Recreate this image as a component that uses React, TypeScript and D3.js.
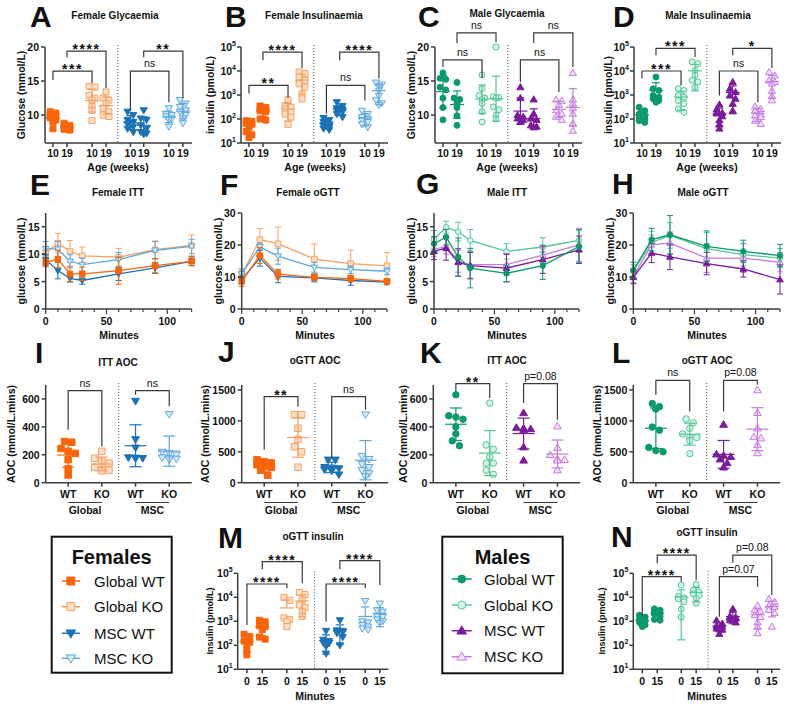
import React from 'react';
import * as d3 from 'd3';

const FONT = "'Liberation Sans', Arial, Helvetica, sans-serif";
const AXIS = '#3c3c3c';
const INK = '#111';

// ---------------- DATA ----------------
// Row 1: order = Global WT 10, Global WT 19, Global KO 10, Global KO 19, MSC WT 10, MSC WT 19, MSC KO 10, MSC KO 19
const femaleGlycaemia = [
  [10.5, 10.3, 10.0, 9.8, 9.6, 9.3, 9.0, 8.0],
  [8.8, 8.5, 8.3, 8.2, 8.1, 8.0, 7.9, 7.8],
  [14.2, 14.1, 12.9, 12.5, 12.2, 11.3, 10.7, 9.2],
  [13.4, 12.5, 12.2, 11.7, 11.0, 10.5, 10.0, 9.8],
  [10.5, 10.0, 9.3, 9.0, 8.7, 8.3, 8.0, 7.5],
  [10.7, 9.5, 9.3, 8.5, 8.0, 7.5, 7.3, 7.2],
  [11.0, 10.2, 10.0, 9.8, 9.5, 9.3, 8.3],
  [12.2, 11.7, 11.2, 10.7, 10.5, 10.0, 9.5, 8.8],
];
const femaleInsulinaemia = [
  [85, 80, 70, 60, 45, 30, 22, 17],
  [350, 300, 260, 240, 220, 200, 100, 90],
  [630, 360, 310, 260, 190, 160, 120, 60],
  [9100, 7800, 5600, 4100, 2950, 2140, 1120, 690],
  [110, 90, 75, 60, 55, 45, 40, 35],
  [500, 350, 280, 250, 230, 200, 160, 120],
  [220, 160, 120, 100, 90, 75, 60, 45],
  [3300, 2700, 2300, 1500, 900, 600, 450, 380],
];
const maleGlycaemia = [
  [16.2, 15.4, 15.25, 14.1, 13.7, 12.5, 11.1, 9.3],
  [14.8, 12.5, 12.3, 11.7, 11.1, 9.9, 8.5],
  [15.9, 13.9, 12.9, 12.5, 12.3, 11.7, 10.5, 9.0],
  [20, 12.7, 12.6, 12.5, 11.2, 10.8, 10.0, 9.4],
  [14.1, 12.5, 10.0, 9.75, 9.5, 9.26, 9.0],
  [12.3, 10.2, 9.5, 9.3, 8.5, 8.3, 8.2],
  [12.3, 12.1, 11.5, 10.7, 10.2, 9.75, 9.3],
  [16.2, 12.3, 11.7, 11.0, 10.2, 8.8, 7.7],
];
const maleInsulinaemia = [
  [310, 220, 160, 140, 120, 100, 85, 72],
  [5600, 1800, 1550, 950, 810, 700, 590, 500],
  [1820, 1550, 950, 810, 590, 430, 260, 190],
  [24000, 20400, 10700, 6600, 4100, 3500, 2100],
  [400, 250, 180, 170, 130, 90, 60, 40],
  [3460, 1820, 1320, 950, 700, 430, 220],
  [330, 260, 220, 160, 140, 120, 85, 62],
  [9000, 6500, 4000, 3500, 3000, 1500, 900, 600],
];

// Row 2: series order = Global WT, Global KO, MSC WT, MSC KO
const ittMinutes = [0, 10, 20, 30, 60, 90, 120];
const gttMinutes = [0, 15, 30, 60, 90, 120];
const femaleITTMean = [
  [8.5, 9.1, 6.4, 6.4, 7.0, 7.9, 8.7],
  [10.2, 12.0, 10.5, 9.7, 9.45, 10.8, 11.6],
  [9.0, 7.0, 5.6, 5.2, 6.4, 7.5, 8.7],
  [11.0, 10.9, 8.7, 8.1, 9.0, 10.7, 11.4],
];
const femaleITTSD = [
  [0.8, 1.6, 1.4, 1.2, 2.5, 1.3, 0.8],
  [1.2, 1.8, 2.0, 1.6, 1.6, 1.6, 1.9],
  [1.0, 1.5, 0.7, 0.7, 1.2, 1.0, 0.8],
  [1.3, 1.4, 1.2, 1.2, 1.3, 1.6, 1.3],
];
const femaleGTTMean = [
  [8.6, 16.7, 10.9, 9.9, 9.5, 8.6],
  [10.7, 21.7, 20.4, 15.6, 14.2, 13.5],
  [9.2, 15.9, 10.2, 9.7, 8.9, 8.4],
  [11.0, 19.4, 16.5, 13.0, 12.3, 11.8],
];
const femaleGTTSD = [
  [1.5, 2.5, 1.5, 1.0, 1.0, 0.8],
  [1.5, 3.4, 5.2, 4.7, 4.2, 4.2],
  [1.0, 2.5, 2.0, 1.2, 1.5, 0.8],
  [1.5, 1.2, 2.5, 1.5, 1.2, 1.0],
];
const maleITTMean = [
  [11.9, 13.1, 9.45, 7.45, 6.5, 7.9, 11.4],
  [12.7, 14.9, 14.1, 12.5, 10.5, 11.3, 12.5],
  [10.5, 11.1, 8.5, 7.9, 7.45, 9.0, 10.8],
  [10.8, 11.5, 8.7, 8.1, 8.1, 9.8, 11.7],
];
const maleITTSD = [
  [1.3, 1.4, 3.5, 3.6, 1.5, 2.5, 3.0],
  [1.6, 1.1, 1.7, 2.0, 1.4, 1.7, 2.0],
  [1.5, 2.2, 2.5, 2.4, 2.5, 2.5, 2.5],
  [1.3, 1.5, 2.0, 2.5, 2.0, 1.5, 3.0],
];
const maleGTTMean = [
  [12.1, 21.7, 23.2, 19.6, 18.0, 16.7],
  [11.8, 20.8, 23.0, 18.9, 17.0, 15.9],
  [9.9, 17.5, 16.3, 14.2, 12.5, 9.2],
  [10.2, 20.1, 20.6, 15.9, 15.9, 14.6],
];
const maleGTTSD = [
  [2.5, 3.5, 6.0, 4.8, 3.5, 3.5],
  [2.0, 3.5, 4.0, 5.0, 3.5, 3.0],
  [2.0, 3.0, 4.0, 3.5, 2.5, 4.5],
  [2.0, 3.0, 3.5, 4.5, 4.5, 3.0],
];

// Row 3: order = Global WT, Global KO, MSC WT, MSC KO
const femaleITTAOC = [
  [295, 290, 245, 225, 210, 165, 100, 55],
  [225, 175, 155, 140, 110, 95, 90, 85],
  [585, 310, 250, 180, 178, 175, 175],
  [490, 220, 210, 200, 180, 175, 170, 165],
];
const femaleGTTAOC = [
  [370, 340, 320, 290, 270, 250, 200, 120],
  [1100, 1100, 880, 700, 580, 500, 250],
  [370, 370, 250, 240, 230, 210, 190, 130],
  [1100, 430, 380, 300, 250, 200, 150, 100],
];
const maleITTAOC = [
  [630, 480, 470, 455, 400, 350, 300, 265],
  [570, 270, 240, 185, 140, 140, 90, 60],
  [500, 395, 390, 385, 380, 255, 160],
  [405, 250, 200, 170, 165, 160, 90],
];
const maleGTTAOC = [
  [1280, 1230, 1190, 900, 850, 570, 520, 500],
  [1030, 970, 880, 790, 730, 730, 680, 470],
  [940, 460, 440, 420, 380, 320, 250],
  [1500, 1130, 880, 740, 720, 610, 480],
];

// Row 4: order = Global WT 0, Global WT 15, Global KO 0, Global KO 15, MSC WT 0, MSC WT 15, MSC KO 0, MSC KO 15
const femaleGTTInsulin = [
  [290, 230, 150, 135, 100, 60, 40],
  [1100, 950, 650, 600, 450, 220, 180],
  [10000, 7500, 1400, 1200, 1000, 600],
  [16000, 13000, 7700, 4800, 3800, 2500, 1600],
  [400, 170, 150, 130, 120, 90, 45],
  [1100, 420, 400, 380, 350, 320, 220, 100],
  [7000, 1000, 900, 700, 600, 500, 450],
  [5500, 2900, 2500, 1600, 1500, 1200, 1000, 850],
];
const maleGTTInsulin = [
  [1800, 1500, 1200, 1000, 900, 700, 600],
  [3300, 2900, 2600, 2200, 2000, 1600, 1200, 1100],
  [32000, 11000, 9500, 8500, 6500, 3200, 1500],
  [35000, 20000, 17000, 14000, 12000, 9000, 5600],
  [1100, 800, 650, 600, 500, 450, 300],
  [3300, 1600, 1500, 1400, 1300, 1100, 900],
  [4500, 3000, 2500, 1800, 1500, 900, 600, 320],
  [8500, 6500, 4500, 4000, 3000, 2200, 600],
];

// significance brackets (a/b = group index, y = bar level, ya/yb = leg ends, in data units)
const bracketsA = [
  { a: 0, b: 2, y: 16.47, ya: 15.15, yb: 14.7, label: '***' },
  { a: 1, b: 3, y: 19.4, ya: 18.5, yb: 13.97, label: '****' },
  { a: 4, b: 6, y: 16.47, ya: 10.7, yb: 11.9, label: 'ns' },
  { a: 5, b: 7, y: 19.4, ya: 18.5, yb: 12.5, label: '**' },
];
const bracketsB = [
  { a: 0, b: 2, y: 10 ** 3.4, ya: 10 ** 3.06, yb: 10 ** 2.89, label: '**' },
  { a: 1, b: 3, y: 10 ** 4.79, ya: 10 ** 4.45, yb: 10 ** 4.12, label: '****' },
  { a: 4, b: 6, y: 10 ** 3.4, ya: 10 ** 2.22, yb: 10 ** 2.77, label: 'ns' },
  { a: 5, b: 7, y: 10 ** 4.79, ya: 10 ** 4.45, yb: 10 ** 3.69, label: '****' },
];
const bracketsC = [
  { a: 0, b: 2, y: 18.1, ya: 17.06, yb: 15.44, label: 'ns' },
  { a: 1, b: 3, y: 22.06, ya: 20.6, yb: 20.7, label: 'ns' },
  { a: 4, b: 6, y: 18.1, ya: 14.85, yb: 13.4, label: 'ns' },
  { a: 5, b: 7, y: 22.06, ya: 20.6, yb: 17.06, label: 'ns' },
];
const bracketsD = [
  { a: 0, b: 2, y: 1e4, ya: 10 ** 3.69, yb: 10 ** 3.4, label: '***' },
  { a: 1, b: 3, y: 10 ** 4.945, ya: 10 ** 4.66, yb: 10 ** 4.58, label: '***' },
  { a: 4, b: 6, y: 1e4, ya: 10 ** 2.98, yb: 10 ** 2.7, label: 'ns' },
  { a: 5, b: 7, y: 10 ** 4.945, ya: 10 ** 4.66, yb: 10 ** 4.12, label: '*' },
];
const bracketsI = [
  { a: 0, b: 1, y: 660, ya: 379, yb: 259, label: 'ns' },
  { a: 2, b: 3, y: 660, ya: 631, yb: 547, label: 'ns' },
];
const bracketsJ = [
  { a: 0, b: 1, y: 1391, ya: 531, yb: 1229, label: '**' },
  { a: 2, b: 3, y: 1391, ya: 400, yb: 1180, label: 'ns' },
];
const bracketsK = [
  { a: 0, b: 1, y: 710, ya: 655, yb: 607, label: '**' },
  { a: 2, b: 3, y: 710, ya: 571, yb: 451, label: 'p=0.08' },
];
const bracketsL = [
  { a: 0, b: 1, y: 1656, ya: 1424, yb: 1153, label: 'ns' },
  { a: 2, b: 3, y: 1656, ya: 1153, yb: 1586, label: 'p=0.08' },
];
const bracketsM = [
  { a: 0, b: 2, y: 10 ** 4.554, ya: 10 ** 2.846, yb: 10 ** 4.375, label: '****' },
  { a: 1, b: 3, y: 10 ** 5.483, ya: 10 ** 5.167, yb: 10 ** 4.583, label: '****' },
  { a: 4, b: 6, y: 10 ** 4.554, ya: 10 ** 2.983, yb: 10 ** 4.375, label: '****' },
  { a: 5, b: 7, y: 10 ** 5.525, ya: 10 ** 5.167, yb: 10 ** 4.5, label: '****' },
];
const bracketsN = [
  { a: 0, b: 2, y: 10 ** 4.858, ya: 10 ** 3.19, yb: 10 ** 4.65, label: '****' },
  { a: 1, b: 3, y: 10 ** 5.76, ya: 10 ** 5.42, yb: 10 ** 4.72, label: '****' },
  { a: 4, b: 6, y: 10 ** 4.858, ya: 10 ** 3.19, yb: 10 ** 4.44, label: 'p=0.07' },
  { a: 5, b: 7, y: 10 ** 5.76, ya: 10 ** 5.44, yb: 10 ** 4.1, label: 'p=0.08' },
];

const ageLabels = ['10', '19', '10', '19', '10', '19', '10', '19'];
const genoLabels = ['WT', 'KO', 'WT', 'KO'];
const groupLabels = ['Global', 'MSC'];
const minuteLabels = ['0', '15', '0', '15', '0', '15', '0', '15'];
const legendLabels = ['Global WT', 'Global KO', 'MSC WT', 'MSC KO'];
const glucoseTicks = [10, 15, 20];
const logTicks = [10, 100, 1000, 10000, 100000];
const ittTicks = [0, 5, 10, 15];
const gttTicks = [0, 10, 20, 30];
const ittAocTicks = [0, 200, 400, 600];
const gttAocTicks = [0, 500, 1000, 1500];

// ---------------- STYLES ----------------
type Shape = 'square' | 'circle' | 'triDown' | 'triUp';
interface Sty { stroke: string; fill: string; shape: Shape; }
const F_GWT: Sty = { stroke: '#f8650a', fill: '#f8650a', shape: 'square' };
const F_GKO: Sty = { stroke: '#f6a060', fill: '#fde0ca', shape: 'square' };
const F_MWT: Sty = { stroke: '#1b72b5', fill: '#1b72b5', shape: 'triDown' };
const F_MKO: Sty = { stroke: '#5ea8dc', fill: '#d6eaf8', shape: 'triDown' };
const M_GWT: Sty = { stroke: '#0d9a69', fill: '#0d9a69', shape: 'circle' };
const M_GKO: Sty = { stroke: '#52c795', fill: '#d6f3e6', shape: 'circle' };
const M_MWT: Sty = { stroke: '#7a1b9c', fill: '#7a1b9c', shape: 'triUp' };
const M_MKO: Sty = { stroke: '#c47ce0', fill: '#f2def9', shape: 'triUp' };
const FEM4 = [F_GWT, F_GKO, F_MWT, F_MKO];
const MAL4 = [M_GWT, M_GKO, M_MWT, M_MKO];
const FEM8 = [F_GWT, F_GWT, F_GKO, F_GKO, F_MWT, F_MWT, F_MKO, F_MKO];
const MAL8 = [M_GWT, M_GWT, M_GKO, M_GKO, M_MWT, M_MWT, M_MKO, M_MKO];

const SLOTS8 = [0.57, 1.57, 3.36, 4.36, 6.1, 7.05, 8.85, 9.85];
const SLOTS4 = [1, 2.5, 4, 5.5];
const SLOTS_M = [0.6, 1.6, 3.2, 4.2, 5.75, 6.65, 8.3, 9.25];

function markerPath(shape: Shape, s: number): string {
  const h = s / 2;
  if (shape === 'square') return `M${-h},${-h}H${h}V${h}H${-h}Z`;
  if (shape === 'circle') return `M${h},0A${h},${h} 0 1,1 ${-h},0A${h},${h} 0 1,1 ${h},0Z`;
  const t = h * 1.2;
  if (shape === 'triDown') return `M${-t},${-t * 0.7}L${t},${-t * 0.7}L0,${t}Z`;
  return `M${-t},${t * 0.7}L${t},${t * 0.7}L0,${-t}Z`;
}

function Marker({ x, y, st, size }: { x: number; y: number; st: Sty; size: number }) {
  return (
    <path transform={`translate(${x},${y})`} d={markerPath(st.shape, size)}
      fill={st.fill} stroke={st.stroke} strokeWidth={1} />
  );
}

function swarm(pys: number[], d: number, maxPerRow: number): number[] {
  const idx = pys.map((_, i) => i).sort((a, b) => pys[a] - pys[b]);
  const off = new Array(pys.length).fill(0);
  let row: number[] = [];
  const flush = () => {
    const n = row.length;
    row.forEach((i, j) => { off[i] = (j - (n - 1) / 2) * d; });
    row = [];
  };
  for (const i of idx) {
    if (row.length && (pys[i] - pys[row[0]] >= d * 0.7 || row.length >= maxPerRow)) flush();
    row.push(i);
  }
  flush();
  return off;
}

function YAxis({ x, scale, ticks, log, top, bottom }: any) {
  return (
    <g>
      <line x1={x} x2={x} y1={top} y2={bottom} stroke={AXIS} strokeWidth={1.5} />
      {ticks.map((t: number) => {
        const y = scale(t);
        return (
          <g key={t}>
            <line x1={x - 4} x2={x} y1={y} y2={y} stroke={AXIS} strokeWidth={1.5} />
            {log ? (
              <text x={x - 5} y={y + 4} textAnchor="end" fontSize={10.5} fontWeight="bold" fill={INK}>
                10<tspan dy={-5} fontSize={7}>{Math.round(Math.log10(t))}</tspan>
              </text>
            ) : (
              <text x={x - 6} y={y + 4} textAnchor="end" fontSize={10.5} fontWeight="bold" fill={INK}>{t}</text>
            )}
          </g>
        );
      })}
    </g>
  );
}

function DotPanel(p: any) {
  const x = d3.scaleLinear().domain([0, p.slotMax]).range([p.x0, p.x1]);
  const y: any = (p.log ? d3.scaleLog() : d3.scaleLinear()).domain(p.yDomain).range([p.bottom, p.top]);
  const dx = x(p.divider);
  return (
    <g>
      <line x1={dx} x2={dx} y1={p.top - 2} y2={p.bottom} stroke="#555" strokeWidth={1} strokeDasharray="1,2" />
      {p.groups.map((vals: number[], gi: number) => {
        const st: Sty = p.styles[gi];
        const cx = x(p.slots[gi]);
        const pys = vals.map((v) => y(v));
        const offs = swarm(pys, p.markerSize * p.spread, p.maxPerRow);
        const mean = d3.mean(vals) as number;
        const sd = d3.deviation(vals) as number;
        const ym = y(mean);
        const yh = y(mean + sd);
        const yl = mean - sd > 0 || !p.log ? y(mean - sd) : ym;
        return (
          <g key={gi}>
            {vals.map((v, i) => (
              <Marker key={i} x={cx + offs[i]} y={pys[i]} st={st} size={p.markerSize} />
            ))}
            <g stroke={st.stroke} strokeWidth={1.2}>
              <line x1={cx - p.meanHalf} x2={cx + p.meanHalf} y1={ym} y2={ym} />
              <line x1={cx} x2={cx} y1={yh} y2={yl} />
              <line x1={cx - p.capHalf} x2={cx + p.capHalf} y1={yh} y2={yh} />
              {yl !== ym && <line x1={cx - p.capHalf} x2={cx + p.capHalf} y1={yl} y2={yl} />}
            </g>
          </g>
        );
      })}
      <YAxis x={p.x0} scale={y} ticks={p.yTicks} log={p.log} top={p.top} bottom={p.bottom} />
      <line x1={p.x0} x2={p.x1} y1={p.bottom} y2={p.bottom} stroke={AXIS} strokeWidth={1.5} />
      {p.slots.map((s: number, i: number) => (
        <g key={i}>
          <line x1={x(s)} x2={x(s)} y1={p.bottom} y2={p.bottom + 4} stroke={AXIS} strokeWidth={1.5} />
          <text x={x(s)} y={p.xLabelY} textAnchor="middle" fontSize={10.5} fontWeight="bold" fill={INK}>{p.xLabels[i]}</text>
        </g>
      ))}
      {p.groupRow && [0, 1].map((k) => {
        const xa = x(p.slots[k * 2]);
        const xb = x(p.slots[k * 2 + 1]);
        return (
          <g key={k}>
            <line x1={xa} x2={xb} y1={p.groupRow.lineY} y2={p.groupRow.lineY} stroke={AXIS} strokeWidth={1} />
            <text x={(xa + xb) / 2} y={p.groupRow.labelY} textAnchor="middle" fontSize={10.5} fontWeight="bold" fill={INK}>{groupLabels[k]}</text>
          </g>
        );
      })}
      {p.brackets.map((b: any, i: number) => {
        const xa = x(p.slots[b.a]);
        const xb = x(p.slots[b.b]);
        const yy = y(b.y);
        const star = b.label.includes('*');
        return (
          <g key={i}>
            <path d={`M${xa},${y(b.ya)}V${yy}H${xb}V${y(b.yb)}`} fill="none" stroke="#3a3a3a" strokeWidth={1.2} />
            <text x={(xa + xb) / 2} y={star ? yy + 3 : yy - 4} textAnchor="middle"
              fontSize={star ? 14 : 10.5} fontWeight={star ? 'bold' : 'normal'}
              letterSpacing={star ? 1.5 : 0} fill={INK}>{b.label}</text>
          </g>
        );
      })}
    </g>
  );
}

function LinePanel(p: any) {
  const x = d3.scaleLinear().domain([0, 120]).range([p.x0, p.x1]);
  const y = d3.scaleLinear().domain([0, p.yMax]).range([p.bottom, p.top]);
  const line = d3.line<[number, number]>();
  const order = [1, 3, 2, 0];
  const minor = d3.range(0, 121, 10);
  return (
    <g>
      {order.map((si) => {
        const st: Sty = p.styles[si];
        const means: number[] = p.means[si];
        const sds: number[] = p.sds[si];
        const pts = p.minutes.map((m: number, i: number) => [x(m), y(means[i])] as [number, number]);
        return (
          <g key={si}>
            <g stroke={st.stroke} strokeWidth={1}>
              {pts.map((pt: [number, number], i: number) => {
                const yh = y(means[i] + sds[i]);
                const yl = y(Math.max(0, means[i] - sds[i]));
                return (
                  <g key={i}>
                    <line x1={pt[0]} x2={pt[0]} y1={yh} y2={yl} />
                    <line x1={pt[0] - 3} x2={pt[0] + 3} y1={yh} y2={yh} />
                    <line x1={pt[0] - 3} x2={pt[0] + 3} y1={yl} y2={yl} />
                  </g>
                );
              })}
            </g>
            <path d={line(pts) as string} fill="none" stroke={st.stroke} strokeWidth={1.3} />
            {pts.map((pt: [number, number], i: number) => (
              <Marker key={i} x={pt[0]} y={pt[1]} st={st} size={5.5} />
            ))}
          </g>
        );
      })}
      <YAxis x={p.x0} scale={y} ticks={p.yTicks} top={p.top} bottom={p.bottom} />
      <line x1={p.x0} x2={p.x1} y1={p.bottom} y2={p.bottom} stroke={AXIS} strokeWidth={1.5} />
      {minor.map((m) => (
        <line key={m} x1={x(m)} x2={x(m)} y1={p.bottom} y2={p.bottom + (m % 50 === 0 ? 5 : 3)} stroke={AXIS} strokeWidth={1.2} />
      ))}
      {[0, 50, 100].map((m) => (
        <text key={m} x={x(m)} y={325} textAnchor="middle" fontSize={10.5} fontWeight="bold" fill={INK}>{m}</text>
      ))}
    </g>
  );
}

function Legend({ x, y, w, h, title, styles, rows, mx0, mx1, tx }: any) {
  return (
    <g>
      <rect x={x} y={y} width={w} height={h} fill="#fff" stroke="#111" strokeWidth={2} />
      <text x={x + w / 2} y={y + 27} textAnchor="middle" fontSize={20} fontWeight="bold" fill={INK}>{title}</text>
      {legendLabels.map((lab, i) => (
        <g key={i}>
          <line x1={mx0} x2={mx1} y1={rows[i]} y2={rows[i]} stroke={styles[i].stroke} strokeWidth={1.5} />
          <Marker x={(mx0 + mx1) / 2} y={rows[i]} st={styles[i]} size={8} />
          <text x={tx} y={rows[i] + 5.5} fontSize={15} fill={INK}>{lab}</text>
        </g>
      ))}
    </g>
  );
}

function T({ x, y, s, w, a, children, rot }: any) {
  return (
    <text x={x} y={y} fontSize={s} fontWeight={w || 'bold'} textAnchor={a || 'middle'} fill={INK}
      transform={rot ? `rotate(-90,${x},${y})` : undefined}>{children}</text>
  );
}

export default function App() {
  const row1 = { top: 47, bottom: 143, slots: SLOTS8, slotMax: 10.5, divider: 5.2, markerSize: 6, spread: 0.95, meanHalf: 7, capHalf: 4, maxPerRow: 2, xLabels: ageLabels, xLabelY: 157 };
  const row3 = { top: 385, bottom: 482.7, slots: SLOTS4, slotMax: 6.5, divider: 3.25, markerSize: 6.5, spread: 1.1, meanHalf: 11, capHalf: 6, maxPerRow: 3, xLabels: genoLabels, xLabelY: 498, groupRow: { lineY: 502.5, labelY: 514 } };
  const row4 = { top: 573.3, bottom: 669.3, slots: SLOTS_M, slotMax: 9.8, divider: 5.0, markerSize: 6, spread: 0.95, meanHalf: 7, capHalf: 4, maxPerRow: 2, xLabels: minuteLabels, xLabelY: 685, log: true, yDomain: [10, 1e5], yTicks: logTicks };
  return (
    <svg width={797} height={709} style={{ position: 'absolute', left: 0, top: 0 }} fontFamily={FONT}>
      <rect width={797} height={709} fill="#fff" />
      {/* Row 1 */}
      <DotPanel {...row1} x0={45} x1={192} yDomain={[5.9, 20]} yTicks={glucoseTicks} groups={femaleGlycaemia} styles={FEM8} brackets={bracketsA} />
      <DotPanel {...row1} x0={241} x1={388} log yDomain={[10, 1e5]} yTicks={logTicks} groups={femaleInsulinaemia} styles={FEM8} brackets={bracketsB} />
      <DotPanel {...row1} x0={435} x1={582} yDomain={[5.9, 20]} yTicks={glucoseTicks} groups={maleGlycaemia} styles={MAL8} brackets={bracketsC} />
      <DotPanel {...row1} x0={634} x1={781} log yDomain={[10, 1e5]} yTicks={logTicks} groups={maleInsulinaemia} styles={MAL8} brackets={bracketsD} />
      <T x={30} y={27} s={30} a="start">A</T>
      <T x={225} y={27} s={30} a="start">B</T>
      <T x={418} y={27} s={30} a="start">C</T>
      <T x={613} y={27} s={30} a="start">D</T>
      <T x={115} y={18.5} s={10}>Female Glycaemia</T>
      <T x={314} y={18.5} s={10}>Female Insulinaemia</T>
      <T x={507} y={17} s={10}>Male Glycaemia</T>
      <T x={708} y={18.5} s={10}>Male Insulinaemia</T>
      <T x={25} y={95} s={10.5} rot>Glucose (mmol/L)</T>
      <T x={214} y={95} s={10.5} rot>insulin (pmol/L)</T>
      <T x={415} y={95} s={10.5} rot>Glucose (mmol/L)</T>
      <T x={612} y={95} s={10.5} rot>insulin (pmol/L)</T>
      <T x={118} y={171} s={10.5}>Age (weeks)</T>
      <T x={315} y={171} s={10.5}>Age (weeks)</T>
      <T x={507} y={171} s={10.5}>Age (weeks)</T>
      <T x={707} y={171} s={10.5}>Age (weeks)</T>

      {/* Row 2 */}
      <LinePanel x0={45.7} x1={191.6} top={213} bottom={309} yMax={17.5} yTicks={ittTicks} minutes={ittMinutes} means={femaleITTMean} sds={femaleITTSD} styles={FEM4} />
      <LinePanel x0={241.7} x1={387} top={213} bottom={309} yMax={30} yTicks={gttTicks} minutes={gttMinutes} means={femaleGTTMean} sds={femaleGTTSD} styles={FEM4} />
      <LinePanel x0={434} x1={579} top={213} bottom={309} yMax={17.5} yTicks={ittTicks} minutes={ittMinutes} means={maleITTMean} sds={maleITTSD} styles={MAL4} />
      <LinePanel x0={633.3} x1={780} top={213} bottom={309} yMax={30} yTicks={gttTicks} minutes={gttMinutes} means={maleGTTMean} sds={maleGTTSD} styles={MAL4} />
      <T x={30} y={195} s={30} a="start">E</T>
      <T x={220} y={195} s={30} a="start">F</T>
      <T x={416} y={194} s={30} a="start">G</T>
      <T x={612} y={194} s={30} a="start">H</T>
      <T x={118} y={196} s={10}>Female ITT</T>
      <T x={308} y={196} s={10}>Female oGTT</T>
      <T x={507} y={196} s={10}>Male ITT</T>
      <T x={703} y={196} s={10}>Male oGTT</T>
      <T x={25} y={261} s={10.5} rot>glucose (mmol/L)</T>
      <T x={222} y={261} s={10.5} rot>glucose (mmol/L)</T>
      <T x={415} y={261} s={10.5} rot>glucose (mmol/L)</T>
      <T x={614} y={261} s={10.5} rot>glucose (mmol/L)</T>
      <T x={119} y={339} s={10.5}>Minutes</T>
      <T x={315} y={339} s={10.5}>Minutes</T>
      <T x={507} y={339} s={10.5}>Minutes</T>
      <T x={707} y={339} s={10.5}>Minutes</T>

      {/* Row 3 */}
      <DotPanel {...row3} x0={45.7} x1={191.7} yDomain={[0, 700]} yTicks={ittAocTicks} groups={femaleITTAOC} styles={FEM4} brackets={bracketsI} />
      <DotPanel {...row3} x0={241.7} x1={388} yDomain={[0, 1580]} yTicks={gttAocTicks} groups={femaleGTTAOC} styles={FEM4} brackets={bracketsJ} />
      <DotPanel {...row3} x0={433.3} x1={580} yDomain={[0, 700]} yTicks={ittAocTicks} groups={maleITTAOC} styles={MAL4} brackets={bracketsK} />
      <DotPanel {...row3} x0={633.3} x1={780} yDomain={[0, 1580]} yTicks={gttAocTicks} groups={maleGTTAOC} styles={MAL4} brackets={bracketsL} />
      <T x={35} y={363} s={30} a="start">I</T>
      <T x={218} y={362} s={30} a="start">J</T>
      <T x={420} y={363} s={30} a="start">K</T>
      <T x={612} y={363} s={30} a="start">L</T>
      <T x={118} y={366} s={10}>ITT AOC</T>
      <T x={315} y={364} s={10}>oGTT AOC</T>
      <T x={507} y={364} s={10}>ITT AOC</T>
      <T x={707} y={364} s={10}>oGTT AOC</T>
      <T x={15} y={434} s={10.5} rot>AOC (mmol/L.mins)</T>
      <T x={209} y={434} s={10.5} rot>AOC (mmol/L.mins)</T>
      <T x={407} y={434} s={10.5} rot>AOC (mmol/L.mins)</T>
      <T x={601} y={434} s={10.5} rot>AOC (mmol/L.mins)</T>

      {/* Row 4 */}
      <Legend x={51.7} y={536.7} w={120} h={136} title="Females" styles={FEM4} rows={[581, 606.7, 633.3, 658.3]} mx0={61.7} mx1={80} tx={94} />
      <Legend x={442.3} y={536.7} w={120.4} h={136.6} title="Males" styles={MAL4} rows={[579, 605, 630.7, 656.7]} mx0={451.7} mx1={471.7} tx={484} />
      <DotPanel {...row4} x0={237.7} x1={388.3} groups={femaleGTTInsulin} styles={FEM8} brackets={bracketsM} />
      <DotPanel {...row4} x0={633.3} x1={780} groups={maleGTTInsulin} styles={MAL8} brackets={bracketsN} />
      <T x={218} y={548} s={30} a="start">M</T>
      <T x={611} y={547} s={30} a="start">N</T>
      <T x={313} y={540} s={10}>oGTT insulin</T>
      <T x={707} y={536} s={10}>oGTT insulin</T>
      <T x={213} y={621} s={9} rot>Insulin (pmol/L)</T>
      <T x={605} y={621} s={9} rot>Insulin (pmol/L)</T>
      <T x={315} y={700} s={10.5}>Minutes</T>
      <T x={707} y={700} s={10.5}>Minutes</T>
    </svg>
  );
}
